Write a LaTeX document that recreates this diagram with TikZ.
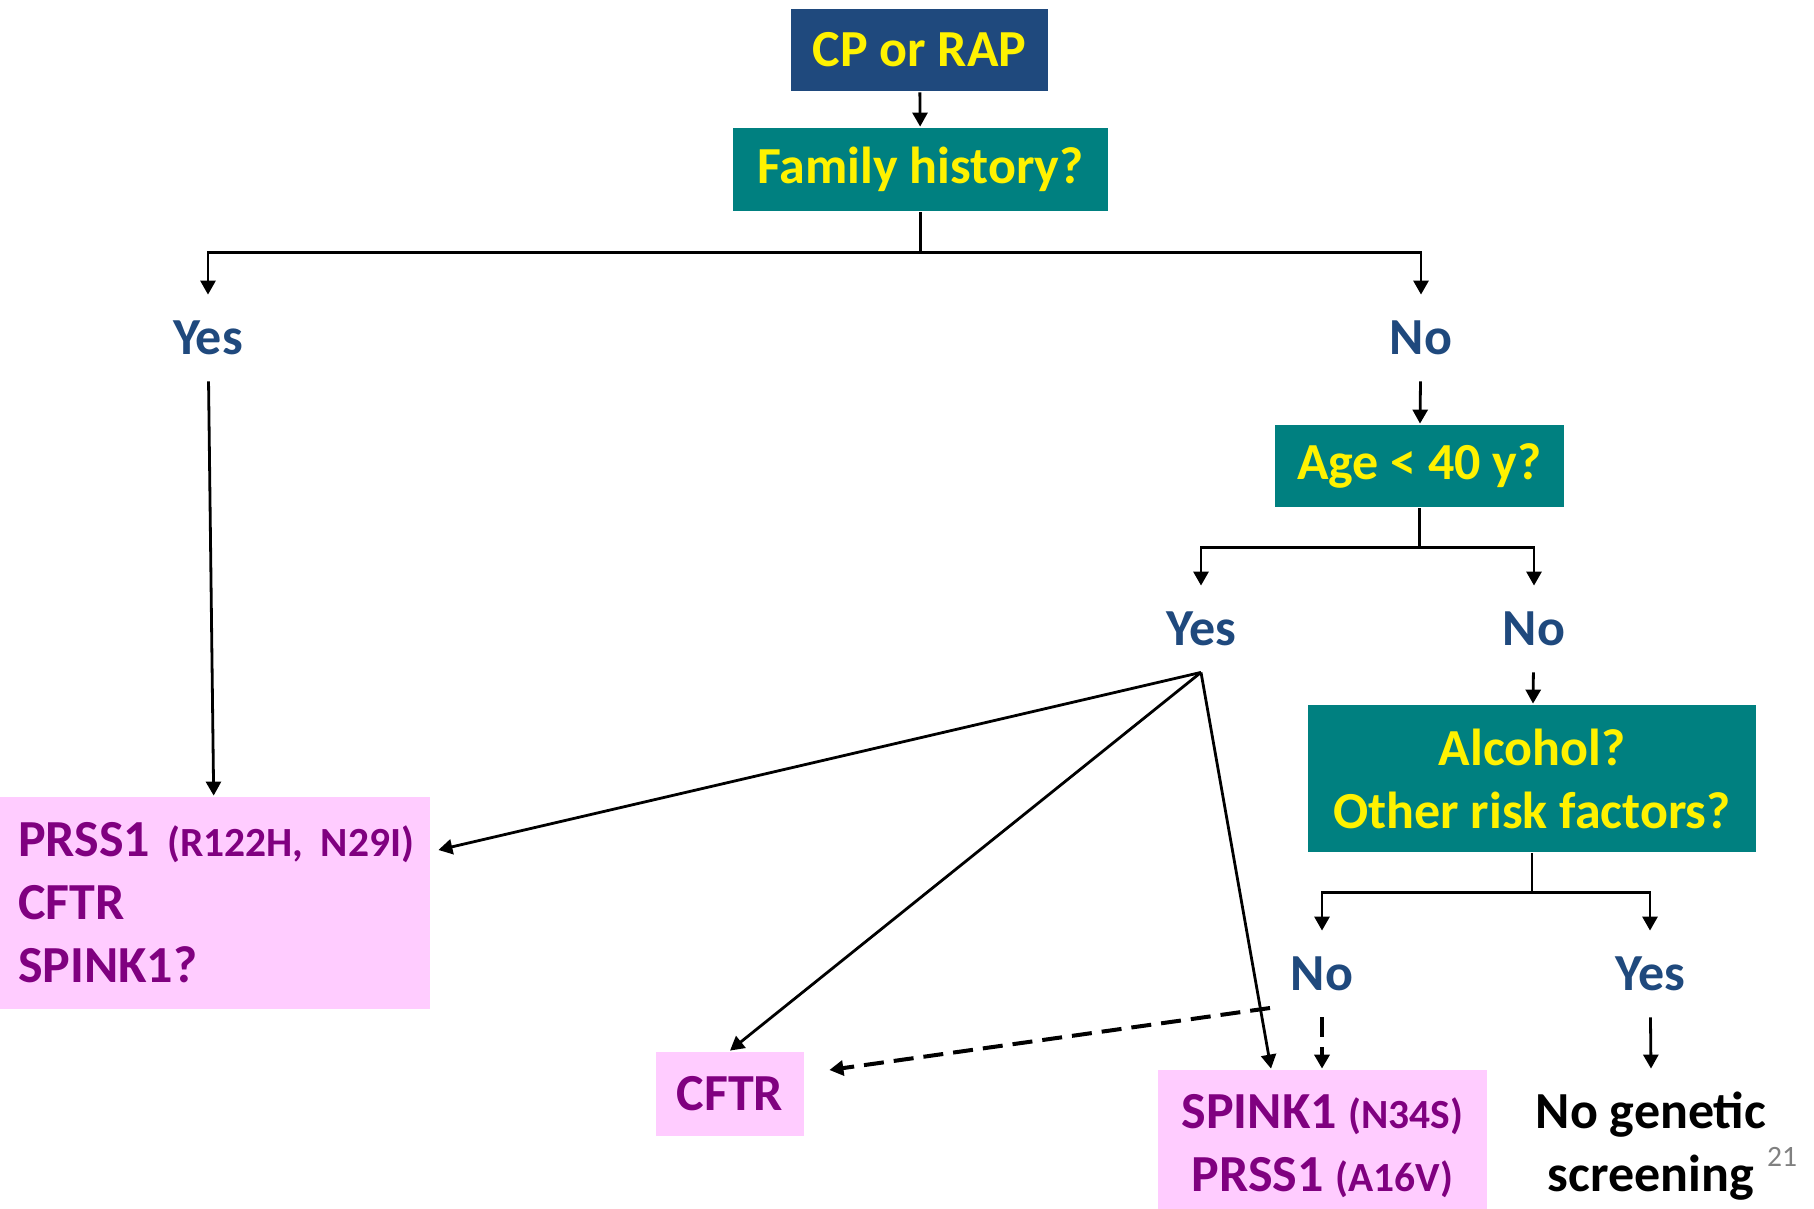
\documentclass[tikz,border=0pt]{standalone}
\usepackage{fontspec}
\setmainfont{Carlito}
\usetikzlibrary{arrows.meta}

\definecolor{boxblue}{RGB}{31,73,125}
\definecolor{boxteal}{RGB}{0,128,128}
\definecolor{genepink}{RGB}{255,204,255}
\definecolor{genepurple}{RGB}{128,0,128}

\newcommand{\mutation}[1]{{\fontsize{11.8}{14}\selectfont\frenchspacing #1}}

\begin{document}
\begin{tikzpicture}[x=0.1mm,y=-0.1mm,line width=0.28mm,
    >={Triangle[width=1.5mm,length=1.4mm]},
    question/.style={fill=boxteal,text=yellow,font=\bfseries\fontsize{14.8}{17.9}\selectfont,inner sep=0pt,align=center},
    answer/.style={text=boxblue,font=\bfseries\fontsize{14.8}{17.9}\selectfont,inner sep=0pt,minimum height=8.4mm},
    genes/.style={fill=genepink,text=genepurple,font=\bfseries\fontsize{14.8}{17.9}\selectfont,inner sep=0pt},
    dashline/.style={line width=0.4mm,dash pattern=on 2mm off 1mm}]
      \useasboundingbox (0,0) rectangle (1814,1209) ;
      \node[question,fill=boxblue,minimum width=25.7mm,minimum height=8.2mm] (start) at (919.5,50) {CP or RAP} ;
      \node[question,minimum width=37.5mm,minimum height=8.3mm] (family) at (920.5,169.5) {Family history?} ;
      \node[answer] (famyes) at (208,338) {Yes} ;
      \node[answer] (famno) at (1421,338) {No} ;
      \node[question,minimum width=28.9mm,minimum height=8.2mm] (age) at (1419.5,466) {Age < 40 y?} ;
      \node[answer] (ageyes) at (1201,629) {Yes} ;
      \node[answer] (ageno) at (1534,629) {No} ;
      \node[question,minimum width=44.8mm,minimum height=14.7mm] (alcohol) at (1532,778.5) {Alcohol?\\Other risk factors?} ;
      \node[answer] (alcno) at (1322,974) {No} ;
      \node[answer] (alcyes) at (1650,974) {Yes} ;
      \node[genes,minimum width=43mm,minimum height=21.2mm,text width=39.4mm,align=left] %
      (young) at (215,903) {\mbox{PRSS1 \mutation{(R122H, N29I)}}\\CFTR\\SPINK1?} ;
      \node[genes,minimum width=14.8mm,minimum height=8.4mm] (cftr) at (730,1094) {CFTR} ;
      \node[genes,minimum width=32.9mm,minimum height=15.3mm,align=center] %
      (spink) at (1322.5,1146.5) {SPINK1 \mutation{(N34S)}\\PRSS1 \mutation{(A16V)}} ;
      \node[font=\bfseries\fontsize{14.8}{17.9}\selectfont,align=center,inner sep=0pt] %
      (noscreen) at (1651,1146.5) {No genetic\\screening} ;
      \node[text=gray,font=\fontsize{8.4}{10}\selectfont,inner sep=0pt] (slide) at (1782,1157) {21} ;
      % branches
      \draw[->] (start) -- (family) ;
      \draw (family.south) -- ++(0,40) coordinate (famsplit) ;
      \draw[->] (famsplit) -| (famyes.north) ;
      \draw[->] (famsplit) -| (famno.north) ;
      \draw[->] (famyes) -- (young) ;
      \draw[->] (famno) -- (age) ;
      \draw (age.south) -- ++(0,39) coordinate (agesplit) ;
      \draw[->] (agesplit) -| (ageyes.north) ;
      \draw[->] (agesplit) -| (ageno.north) ;
      \draw[->] (ageno) -- (alcohol) ;
      \draw (alcohol.south) -- ++(0,39) coordinate (alcsplit) ;
      \draw[->] (alcsplit) -| (alcno.north) ;
      \draw[->] (alcsplit) -| (alcyes.north) ;
      \draw[->] (alcyes) -- (noscreen.north |- spink.north) ;
      \draw[->] (ageyes.south) -- ([shift={(7,-53)}]young.east) ;
      \draw[->] (ageyes.south) -- (cftr.north) ;
      \draw[->] (ageyes.south) -- ([xshift=-5.15mm]spink.north) ;
      \coordinate (dashfrom) at (1270,1008) ;
      \draw[->,dashline] (dashfrom) -- ([shift={(24,-24)}]cftr.east) ;
      \draw[->,dashline] (alcno) -- (spink.north -| alcno) ;
    \end{tikzpicture}
\end{document}
